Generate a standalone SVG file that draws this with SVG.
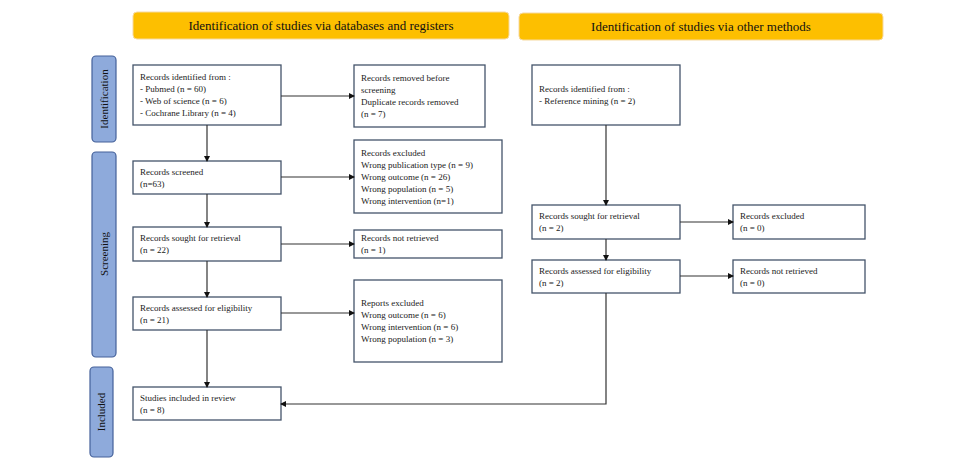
<svg xmlns="http://www.w3.org/2000/svg" width="962" height="465" viewBox="0 0 962 465">
<style>
.hd{fill:#fdbf00;stroke:#f6d9a0;stroke-width:1}
.ht{font-family:"Liberation Serif",serif;font-size:13px;fill:#111;text-anchor:middle}
.side{fill:#8eaadb;stroke:#44619a;stroke-width:1.2}
.st{font-family:"Liberation Serif",serif;font-size:11px;fill:#111;text-anchor:middle}
.bx{fill:#fff;stroke:#44546a;stroke-width:1.3}
.t{font-family:"Liberation Serif",serif;font-size:9px;fill:#222}
.c{fill:none;stroke:#333;stroke-width:1.2;marker-end:url(#a)}
</style>
<defs><marker id="a" markerWidth="6" markerHeight="6" refX="5" refY="3" orient="auto" markerUnits="userSpaceOnUse"><path d="M0,0L6,3L0,6z" fill="#111"/></marker></defs>
<rect width="962" height="465" fill="#fff"/>
<g id="h1"><rect class="hd" x="133" y="12" width="376" height="27" rx="4"/><text class="ht" x="321" y="30">Identification of studies via databases and registers</text></g>
<g id="h2"><rect class="hd" x="519" y="13" width="364" height="27" rx="4"/><text class="ht" x="701" y="31">Identification of studies via other methods</text></g>
<g id="s1"><rect class="side" x="92" y="56" width="24" height="86" rx="4"/><text class="st" transform="translate(108,99) rotate(-90)">Identification</text></g>
<g id="s2"><rect class="side" x="92" y="152" width="24" height="205" rx="4"/><text class="st" transform="translate(108,254) rotate(-90)">Screening</text></g>
<g id="s3"><rect class="side" x="90" y="367" width="23" height="90" rx="4"/><text class="st" transform="translate(105,412) rotate(-90)">Included</text></g>
<g id="b1"><rect class="bx" x="133" y="65" width="148" height="60"/><text class="t"><tspan x="140" y="80">Records identified from :</tspan><tspan x="140" y="92">- Pubmed  (n = 60)</tspan><tspan x="140" y="104">- Web of science (n = 6)</tspan><tspan x="140" y="116">- Cochrane Library (n = 4)</tspan></text></g>
<g id="b2"><rect class="bx" x="354" y="65" width="131" height="62"/><text class="t"><tspan x="361" y="81">Records removed before</tspan><tspan x="361" y="93">screening</tspan><tspan x="361" y="105">Duplicate records removed</tspan><tspan x="361" y="117">(n = 7)</tspan></text></g>
<g id="b3"><rect class="bx" x="133" y="161" width="148" height="33"/><text class="t"><tspan x="140" y="175">Records screened</tspan><tspan x="140" y="187">(n=63)</tspan></text></g>
<g id="b4"><rect class="bx" x="354" y="140" width="148" height="73"/><text class="t"><tspan x="361" y="156">Records excluded</tspan><tspan x="361" y="168">Wrong publication type (n = 9)</tspan><tspan x="361" y="180">Wrong outcome (n = 26)</tspan><tspan x="361" y="192">Wrong population (n = 5)</tspan><tspan x="361" y="204">Wrong intervention (n=1)</tspan></text></g>
<g id="b5"><rect class="bx" x="133" y="227" width="148" height="34"/><text class="t"><tspan x="140" y="241">Records sought for retrieval</tspan><tspan x="140" y="253">(n = 22)</tspan></text></g>
<g id="b6"><rect class="bx" x="354" y="230" width="148" height="28"/><text class="t"><tspan x="361" y="241">Records not retrieved</tspan><tspan x="361" y="253">(n = 1)</tspan></text></g>
<g id="b7"><rect class="bx" x="133" y="297" width="148" height="33"/><text class="t"><tspan x="140" y="311">Records assessed for eligibility</tspan><tspan x="140" y="323">(n = 21)</tspan></text></g>
<g id="b8"><rect class="bx" x="354" y="280" width="148" height="82"/><text class="t"><tspan x="361" y="306">Reports excluded</tspan><tspan x="361" y="318">Wrong outcome (n = 6)</tspan><tspan x="361" y="330">Wrong intervention (n = 6)</tspan><tspan x="361" y="342">Wrong population (n = 3)</tspan></text></g>
<g id="b9"><rect class="bx" x="133" y="387" width="148" height="33"/><text class="t"><tspan x="140" y="401">Studies included in review</tspan><tspan x="140" y="413">(n = 8)</tspan></text></g>
<g id="r1"><rect class="bx" x="532" y="65" width="148" height="60"/><text class="t"><tspan x="539" y="92">Records identified from :</tspan><tspan x="539" y="104">- Reference mining (n = 2)</tspan></text></g>
<g id="r2"><rect class="bx" x="532" y="205" width="148" height="34"/><text class="t"><tspan x="539" y="219">Records sought for retrieval</tspan><tspan x="539" y="231">(n = 2)</tspan></text></g>
<g id="r3"><rect class="bx" x="733" y="205" width="132" height="34"/><text class="t"><tspan x="740" y="219">Records excluded</tspan><tspan x="740" y="231">(n = 0)</tspan></text></g>
<g id="r4"><rect class="bx" x="532" y="260" width="148" height="33"/><text class="t"><tspan x="539" y="274">Records assessed for eligibility</tspan><tspan x="539" y="286">(n = 2)</tspan></text></g>
<g id="r5"><rect class="bx" x="733" y="260" width="132" height="33"/><text class="t"><tspan x="740" y="274">Records not retrieved</tspan><tspan x="740" y="286">(n = 0)</tspan></text></g>
<g id="connectors">
<path class="c" d="M207,125V161"/>
<path class="c" d="M207,194V227"/>
<path class="c" d="M207,261V297"/>
<path class="c" d="M207,330V387"/>
<path class="c" d="M281,96H354"/>
<path class="c" d="M281,177H354"/>
<path class="c" d="M281,244H354"/>
<path class="c" d="M281,313H354"/>
<path class="c" d="M606,125V205"/>
<path class="c" d="M606,239V260"/>
<path class="c" d="M680,222H733"/>
<path class="c" d="M680,276H733"/>
<path class="c" d="M606,293V404H281"/>
</g>
</svg>
